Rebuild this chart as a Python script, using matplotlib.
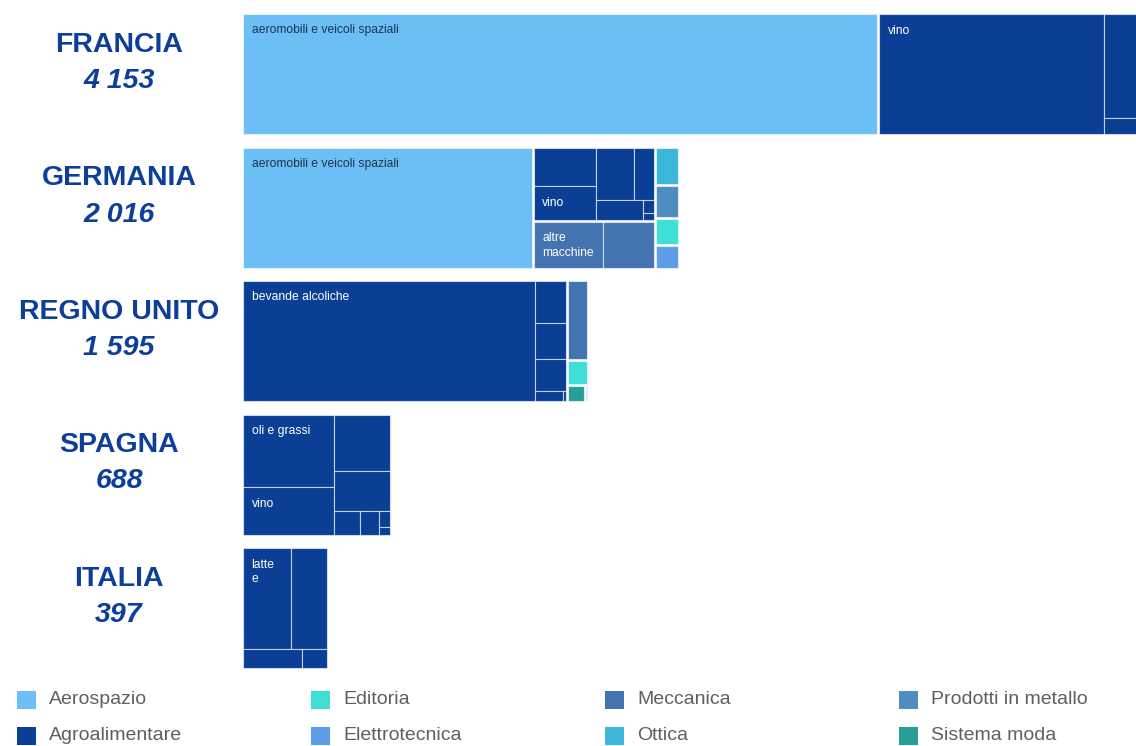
"""
Treemap per paese: valore totale e composizione per settore/prodotto
"""
import matplotlib
matplotlib.use("Agg")
import matplotlib.pyplot as plt
from matplotlib.patches import Rectangle

PHI = (1 + 5 ** 0.5) / 2

countries = ["FRANCIA", "GERMANIA", "REGNO UNITO", "SPAGNA", "ITALIA"]

sectors = ["Aerospazio", "Agroalimentare", "Editoria", "Elettrotecnica",
           "Meccanica", "Ottica", "Prodotti in metallo", "Sistema moda"]
sector_colors = ["#6bbff5", "#0b3f96", "#3ddfd6", "#5b9de6",
                 "#4473b2", "#3cb6d8", "#4f8cc0", "#26a096"]

# valori per prodotto, raggruppati per settore
francia = {
    "Aerospazio": [2935],
    "Agroalimentare": [1045, 150, 23],
}
germania = {
    "Aerospazio": [1340],
    "Agroalimentare": [96, 82, 79, 42, 36, 6, 3],
    "Meccanica": [128, 95],
    "Ottica": [34],
    "Prodotti in metallo": [30],
    "Editoria": [24],
    "Elettrotecnica": [21],
}
regno_unito = {
    "Agroalimentare": [1354, 50, 43, 38, 11, 1],
    "Meccanica": [64],
    "Editoria": [20],
    "Sistema moda": [12],
    "Elettrotecnica": [2],
}
spagna = {
    "Agroalimentare": [258, 169, 122, 87, 24, 18, 7, 3],
}
italia = {
    "Agroalimentare": [191, 142, 45, 19],
}

# etichette dei prodotti (stesso ordine dei valori)
labels = {
    "FRANCIA": {"Aerospazio": ["aeromobili e veicoli spaziali"],
                "Agroalimentare": ["vino"]},
    "GERMANIA": {"Aerospazio": ["aeromobili e veicoli spaziali"],
                 "Agroalimentare": ["", "vino"],
                 "Meccanica": ["altre\nmacchine"]},
    "REGNO UNITO": {"Agroalimentare": ["bevande alcoliche"]},
    "SPAGNA": {"Agroalimentare": ["oli e grassi", "vino"]},
    "ITALIA": {"Agroalimentare": ["latte\ne"]},
}

data = [francia, germania, regno_unito, spagna, italia]

LEFT = 242          # inizio dei riquadri (px)
UNIT_PX = 0.2168    # px per unità di valore
ROW_TOP = 13
ROW_STEP = 133.5
ROW_H = 122


def squarify(items, x0, y0, x1, y1, ratio=PHI):
    """Layout squarified (come d3.treemapSquarify). items: [(valore, chiave)] ordinati desc."""
    rects = []
    total = sum(v for v, _ in items)
    n = len(items)
    i0 = 0
    while i0 < n:
        dx, dy = x1 - x0, y1 - y0
        s = items[i0][0]
        vmin = vmax = s
        alpha = max(dy / dx, dx / dy) / (total * ratio)
        beta = s * s * alpha
        best = max(vmax / beta, beta / vmin)
        i1 = i0 + 1
        while i1 < n:
            v = items[i1][0]
            s2 = s + v
            beta = s2 * s2 * alpha
            r = max(max(vmax, v) / beta, beta / min(vmin, v))
            if r > best:
                break
            s, vmin, vmax, best = s2, min(vmin, v), max(vmax, v), r
            i1 += 1
        row = items[i0:i1]
        if dx < dy:
            h = dy * s / total
            x = x0
            for v, key in row:
                w = dx * v / s
                rects.append((key, x, y0, w, h))
                x += w
            y0 += h
        else:
            w = dx * s / total
            y = y0
            for v, key in row:
                h = dy * v / s
                rects.append((key, x0, y, w, h))
                y += h
            x0 += w
        total -= s
        i0 = i1
    return rects


fig = plt.figure(figsize=(11.36, 7.46), dpi=100)
ax = fig.add_axes([0, 0, 1, 1])
ax.set_xlim(0, 1136)
ax.set_ylim(746, 0)
ax.axis("off")

color_of = dict(zip(sectors, sector_colors))

for i, (country, groups) in enumerate(zip(countries, data)):
    total = sum(sum(v) for v in groups.values())
    top = ROW_TOP + i * ROW_STEP

    # etichetta paese
    ax.text(119, top + 38.7, country, ha="center", va="baseline", fontsize=20.5,
            fontweight="bold", color="#0d3f9a", family="Liberation Sans")
    ax.text(119, top + 75, f"{total:,}".replace(",", " "), ha="center", va="baseline",
            fontsize=20.5, fontweight="bold", style="italic", color="#0d3f9a",
            family="Liberation Sans")

    sec_items = sorted(((sum(v), name) for name, v in groups.items()), reverse=True)
    sec_rects = squarify(sec_items, LEFT, top, LEFT + total * UNIT_PX, top + ROW_H)

    for name, sx, sy, sw, sh in sec_rects:
        pad = 1.0
        vals = groups[name]
        prod_items = sorted(((v, j) for j, v in enumerate(vals)), key=lambda t: -t[0])
        prod_rects = squarify(prod_items, sx + pad, sy + pad, sx + sw - pad, sy + sh - pad)
        names = labels.get(country, {}).get(name, [])
        for j, px, py, pw, ph in prod_rects:
            ax.add_patch(Rectangle((px, py), pw, ph, facecolor=color_of[name],
                                   edgecolor=(1, 1, 1, 0.6), linewidth=0.8))
            if j < len(names) and names[j]:
                txt_color = "#1f3350" if name == "Aerospazio" else "white"
                ax.text(px + 8.5, py + 10.5, names[j], ha="left", va="top",
                        fontsize=8.7, color=txt_color, family="Liberation Sans",
                        linespacing=1.3, clip_on=True)

# legenda: 4 colonne x 2 righe
for k, (name, col) in enumerate(zip(sectors, sector_colors)):
    cx = 17 + (k // 2) * 294
    cy = 700 + (k % 2) * 36
    ax.add_patch(Rectangle((cx, cy - 9), 19, 18, facecolor=col, edgecolor="none"))
    ax.text(cx + 32, cy, name, ha="left", va="center", fontsize=14,
            color="#5f5f5f", family="Liberation Sans")

plt.savefig("out.png", dpi=100)
